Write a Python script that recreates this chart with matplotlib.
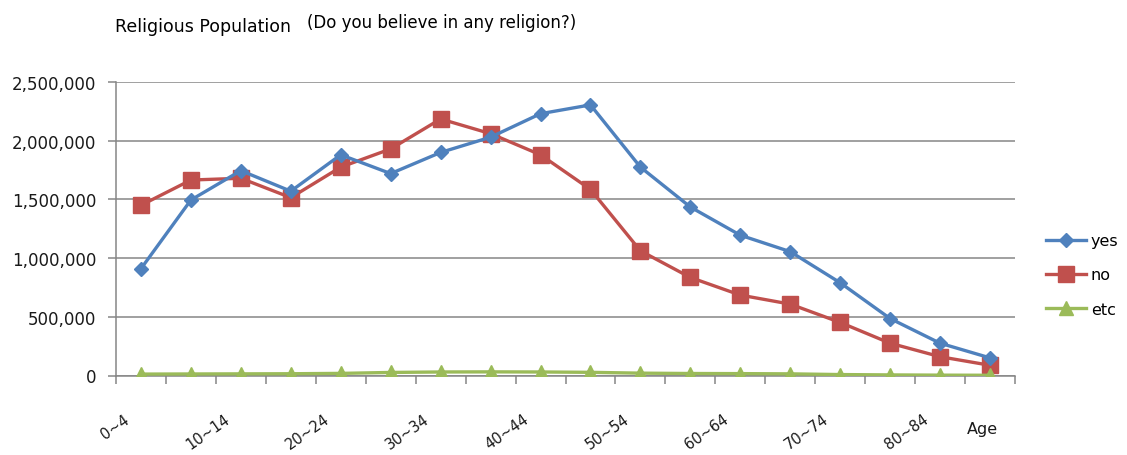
import matplotlib
matplotlib.use("Agg")
import matplotlib.pyplot as plt
from matplotlib.ticker import FuncFormatter, FixedLocator
from matplotlib.transforms import ScaledTranslation

# age groups, 5 year bins
ages = ['0~4', '5~9', '10~14', '15~19', '20~24', '25~29', '30~34', '35~39', '40~44',
        '45~49', '50~54', '55~59', '60~64', '65~69', '70~74', '75~79', '80~84', '85~']

yes = [910000, 1495000, 1745000, 1570000, 1880000, 1720000, 1900000, 2030000, 2230000,
       2305000, 1775000, 1435000, 1195000, 1055000, 790000, 485000, 275000, 150000]
no = [1450000, 1665000, 1680000, 1515000, 1775000, 1930000, 2185000, 2060000, 1880000,
      1585000, 1062000, 835000, 685000, 608000, 452000, 275000, 160000, 87000]
etc = [12000, 13000, 14000, 15000, 18000, 26000, 30000, 31000, 30000,
       27000, 20000, 17000, 16000, 14000, 8000, 5000, 3000, 2000]

plt.rcParams['font.family'] = ['DejaVu Sans']

fig = plt.figure(figsize=(11.27, 4.56), dpi=100)
ax = fig.add_axes([116/1127, 79.5/456, 899/1127, 293.5/456])

x = list(range(len(ages)))
ax.plot(x, yes, color='#4F81BD', lw=2.4, marker='D', ms=7, mew=1, label='yes', zorder=4)
ax.plot(x, no, color='#C0504D', lw=2.4, marker='s', ms=11, mew=1, label='no', zorder=3)
ax.plot(x, etc, color='#9BBB59', lw=2.4, marker='^', ms=10, mew=1, label='etc', zorder=5)

ax.set_xlim(-0.5, len(ages) - 0.5)
ax.set_ylim(0, 2500000)
ax.set_yticks(range(0, 2500001, 500000))
ax.yaxis.set_major_formatter(FuncFormatter(lambda v, p: '{:,.0f}'.format(v)))
ax.grid(axis='y', color='#868686', lw=1.1)
ax.set_axisbelow(True)

for s in ['top', 'right']:
    ax.spines[s].set_visible(False)
for s in ['left', 'bottom']:
    ax.spines[s].set_color('#868686')
    ax.spines[s].set_linewidth(1.1)

# category boundaries get the tick marks, labels sit on every other category
ax.xaxis.set_major_locator(FixedLocator([i - 0.5 for i in range(len(ages) + 1)]))
ax.xaxis.set_major_formatter(FuncFormatter(lambda v, p: ''))
ax.set_xticks(x[::2], [ages[i] for i in x[::2]], minor=True)
ax.tick_params(axis='x', which='major', length=6, color='#868686', width=1.1)
ax.tick_params(axis='x', which='minor', length=0, pad=30, labelsize=10.5, labelcolor='#1a1a1a')
ax.tick_params(axis='y', length=6, color='#868686', width=1.1, pad=8, labelsize=12, labelcolor='#1a1a1a')

shift = ScaledTranslation(-13/100, 0, fig.dpi_scale_trans)
for lab in ax.get_xticklabels(minor=True):
    lab.set_rotation(35)
    lab.set_ha('right')
    lab.set_va('center')
    lab.set_rotation_mode('anchor')
    lab.set_transform(lab.get_transform() + shift)

ax.text(len(ages) - 1.15, -0.18, 'Age', transform=ax.get_xaxis_transform(),
        ha='center', va='center', fontsize=11.5, color='#1a1a1a')

fig.text(115/1127, 1 - 32/456, 'Religious Population', fontsize=12.5, va='baseline', ha='left')
fig.text(307/1127, 1 - 28/456, '(Do you believe in any religion?)', fontsize=12, va='baseline', ha='left')

ax.legend(loc='center left', bbox_to_anchor=(1046/1127, 1 - 276/456),
          bbox_transform=fig.transFigure, frameon=False, fontsize=11.5,
          handlelength=2.5, handletextpad=0.3, labelspacing=1.2, borderpad=0,
          borderaxespad=0)

fig.savefig('out.png', dpi=100)
